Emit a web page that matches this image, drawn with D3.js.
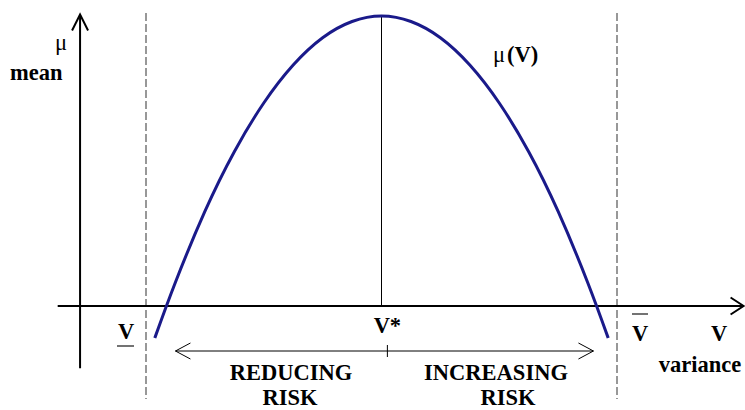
<!DOCTYPE html>
<html>
<head>
<meta charset="utf-8">
<script src="https://cdn.jsdelivr.net/npm/d3@7"></script>
<style>
  body { margin: 0; background: #fff; }
  svg text { font-family: "Liberation Serif", "Times New Roman", serif; font-size: 22.5px; fill: #000; }
  .b { font-weight: bold; }
</style>
</head>
<body>
<script>
// variance values read along the curve, and the mean at each
var curveV  = [1.15, 1.5, 2, 2.5, 3, 3.5, 4, 4.5, 5, 5.5, 6, 6.5, 7, 7.5, 8, 8.5, 8.85];
var curveMu = [-1.1, 0.82, 3.26, 5.32, 7.0, 8.31, 9.25, 9.81, 10, 9.81, 9.25, 8.31, 7.0, 5.32, 3.26, 0.82, -1.1];

// key variances: lower bound, optimum, upper bound
var vLow = 1, vStar = 5, vHigh = 9;
var vStarTick = 5.1;
var riskRange = [1.5, 8.6];
var vAxisRange = [-0.5, 11.15];
var muAxisRange = [-2.15, 10.05];
var yAxisAt = -0.12;

var width = 745, height = 410;

var x = d3.scaleLinear().domain([vLow, vHigh]).range([146, 617]);
var y = d3.scaleLinear().domain([0, 10]).range([306, 16]);

var svg = d3.select('body').append('svg')
    .attr('width', width)
    .attr('height', height);

// open arrow head drawn as a chevron
function chevron(tipX, tipY, dir, len, half) {
  var p = d3.path();
  if (dir == 'up') {
    p.moveTo(tipX - half, tipY + len); p.lineTo(tipX, tipY); p.lineTo(tipX + half, tipY + len);
  } else if (dir == 'right') {
    p.moveTo(tipX - len, tipY - half); p.lineTo(tipX, tipY); p.lineTo(tipX - len, tipY + half);
  } else {
    p.moveTo(tipX + len, tipY - half); p.lineTo(tipX, tipY); p.lineTo(tipX + len, tipY + half);
  }
  return p.toString();
}

// dashed bounds
svg.selectAll('.bound')
    .data([vLow, vHigh])
  .enter().append('line')
    .attr('x1', function(d) { return x(d); })
    .attr('x2', function(d) { return x(d); })
    .attr('y1', 13)
    .attr('y2', 399)
    .attr('stroke', '#777')
    .attr('stroke-width', 1.5)
    .attr('stroke-dasharray', '8,3');

// axes
var yx = x(yAxisAt);
svg.append('line')
    .attr('x1', yx).attr('x2', yx)
    .attr('y1', y(muAxisRange[0])).attr('y2', y(muAxisRange[1]))
    .attr('stroke', '#000').attr('stroke-width', 2);
svg.append('path')
    .attr('d', chevron(yx, y(muAxisRange[1]), 'up', 16, 8))
    .attr('fill', 'none').attr('stroke', '#000').attr('stroke-width', 2);

svg.append('line')
    .attr('x1', x(vAxisRange[0])).attr('x2', x(vAxisRange[1]))
    .attr('y1', y(0)).attr('y2', y(0))
    .attr('stroke', '#000').attr('stroke-width', 2);
svg.append('path')
    .attr('d', chevron(x(vAxisRange[1]), y(0), 'right', 13, 8.5))
    .attr('fill', 'none').attr('stroke', '#000').attr('stroke-width', 2);

// optimum line
svg.append('line')
    .attr('x1', x(vStar)).attr('x2', x(vStar))
    .attr('y1', y(d3.max(curveMu))).attr('y2', y(0))
    .attr('stroke', '#000').attr('stroke-width', 1);

// mean-variance curve
var pts = curveV.map(function(v, i) { return [v, curveMu[i]]; });
svg.append('path')
    .datum(pts)
    .attr('d', d3.line()
        .x(function(d) { return x(d[0]); })
        .y(function(d) { return y(d[1]); })
        .curve(d3.curveNatural))
    .attr('fill', 'none')
    .attr('stroke', '#1a1a8a')
    .attr('stroke-width', 3);

// risk double arrow
var ay = 351;
svg.append('line')
    .attr('x1', x(riskRange[0])).attr('x2', x(riskRange[1]))
    .attr('y1', ay).attr('y2', ay)
    .attr('stroke', '#000').attr('stroke-width', 1);
svg.append('path')
    .attr('d', chevron(x(riskRange[0]), ay, 'left', 15, 8) + chevron(x(riskRange[1]), ay, 'right', 15, 8))
    .attr('fill', 'none').attr('stroke', '#000').attr('stroke-width', 1);
svg.append('line')
    .attr('x1', x(vStarTick)).attr('x2', x(vStarTick))
    .attr('y1', 345).attr('y2', 357)
    .attr('stroke', '#000').attr('stroke-width', 1);

// labels
function label(txt, px, py, anchor, bold) {
  return svg.append('text')
      .attr('x', px).attr('y', py)
      .attr('text-anchor', anchor || 'start')
      .attr('class', bold ? 'b' : null)
      .text(txt);
}

label('\u03bc', 55, 50);
label('mean', 10, 80, 'start', true);
label('\u03bc', 493, 62);
label('(V)', 507, 62, 'start', true);

label('V', x(vLow) - 20, 339, 'middle', true);
svg.append('line')
    .attr('x1', x(vLow) - 29).attr('x2', x(vLow) - 12)
    .attr('y1', 346).attr('y2', 346)
    .attr('stroke', '#444').attr('stroke-width', 1.5);

label('V*', x(vStarTick), 333, 'middle', true);

label('V', x(vHigh) + 23, 341, 'middle', true);
svg.append('line')
    .attr('x1', x(vHigh) + 15).attr('x2', x(vHigh) + 31)
    .attr('y1', 314).attr('y2', 314)
    .attr('stroke', '#444').attr('stroke-width', 1.5);

label('V', 719, 341, 'middle', true);
label('variance', 700, 372, 'middle', true);

label('REDUCING', 291, 380, 'middle', true);
label('RISK', 290, 405, 'middle', true);
label('INCREASING', 496, 380, 'middle', true);
label('RISK', 508, 405, 'middle', true);
</script>
</body>
</html>
